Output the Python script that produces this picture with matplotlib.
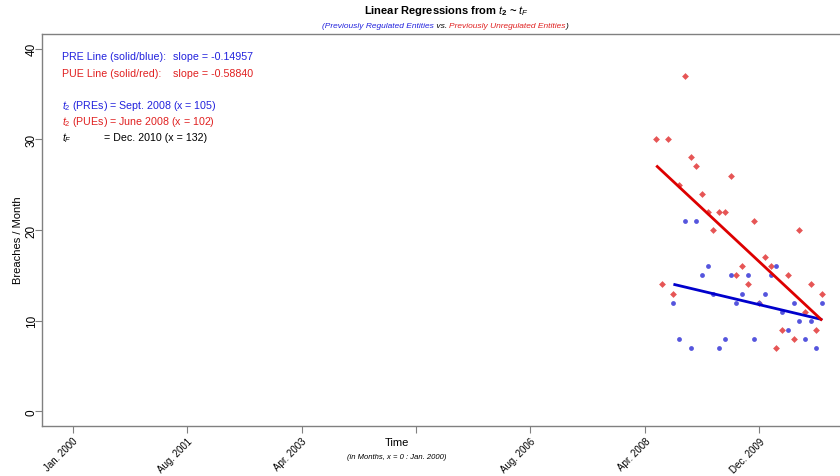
import matplotlib
matplotlib.use('Agg')
import matplotlib.pyplot as plt
import numpy as np

plt.rcParams['font.family'] = ['Liberation Sans', 'DejaVu Sans']
plt.rcParams['mathtext.fontset'] = 'custom'
plt.rcParams['mathtext.rm'] = 'Liberation Sans'
plt.rcParams['mathtext.it'] = 'Liberation Sans:italic'
plt.rcParams['mathtext.bf'] = 'Liberation Sans:bold'

# months since Jan. 2000 (x = 0)
pue_x = list(range(102, 132))
pue_y = [30, 14, 30, 13, 25, 37, 28, 27, 24, 22, 20, 22, 22, 26, 15,
         16, 14, 21, 12, 17, 16, 7, 9, 15, 8, 20, 11, 14, 9, 13]
pre_x = list(range(105, 132))
pre_y = [12, 8, 21, 7, 21, 15, 16, 13, 7, 8, 15, 12, 13, 15,
         8, 12, 13, 15, 16, 11, 9, 12, 10, 8, 10, 7, 12]

tick_pos = [0, 20, 40, 60, 80, 100, 120]
tick_lab = ['Jan. 2000', 'Aug. 2001', 'Apr. 2003', '', 'Aug. 2006', 'Apr. 2008', 'Dec. 2009']

blue_pt = '#5555dd'
red_pt = '#e65555'
blue_ln = '#0000cc'
red_ln = '#dd0000'
txt_blue = '#2222dd'
txt_red = '#e02020'

W, H = 840, 477
fig = plt.figure(figsize=(W / 100, H / 100), dpi=100)
ax = fig.add_axes([42 / W, (H - 427) / H, (870 - 42) / W, (427 - 35) / H])

ax.scatter(pue_x, pue_y, marker='D', s=12, color=red_pt, linewidths=0, zorder=2)
ax.scatter(pre_x, pre_y, marker='o', s=12, color=blue_pt, linewidths=0, zorder=3)

# regression lines over each data range
for xs, ys, c in [(pre_x, pre_y, blue_ln), (pue_x, pue_y, red_ln)]:
    b, a = np.polyfit(xs, ys, 1)
    xx = np.array([xs[0], xs[-1]])
    ax.plot(xx, a + b * xx, color=c, lw=2, zorder=4, solid_capstyle='butt')

ax.set_xlim(-5.36, 139.36)
ax.set_ylim(-1.6, 41.6)
ax.set_xticks(tick_pos)
ax.set_xticklabels(tick_lab, rotation=45, ha='right', va='top', fontsize=7,
                   rotation_mode='anchor')
ax.set_yticks([0, 10, 20, 30, 40])
ax.set_yticklabels(['0', '10', '20', '30', '40'], rotation=90, va='center', fontsize=8.5)
for s in ax.spines.values():
    s.set_color('#808080')
    s.set_linewidth(1)
ax.tick_params(axis='both', colors='#808080', length=5, width=0.8, labelcolor='black')
ax.tick_params(axis='x', pad=2)
ax.tick_params(axis='y', pad=-2)

fig.text(18 / W, 1 - 240 / H, 'Breaches / Month', rotation=90, ha='center', va='center', fontsize=8)
fig.text(397 / W, 1 - 443 / H, 'Time', ha='center', va='center', fontsize=8)
fig.text(397 / W, 1 - 458 / H, '(in Months, x = 0 : Jan. 2000)', ha='center', va='center',
         fontsize=5.5, style='italic')

# title and subtitle
fig.text(446 / W, 1 - 11 / H, r'Linear Regressions from $\mathbf{\it{t}}_\mathbf{2}$ ~ $\mathbf{\it{t}}_F$',
         ha='center', va='center', fontsize=8, fontweight='bold')
parts = [('(Previously Regulated Entities', txt_blue), (' vs. ', 'black'),
         ('Previously Unregulated Entities', txt_red), (')', 'black')]
fig.canvas.draw()
r = fig.canvas.get_renderer()
objs = []
for s, c in parts:
    objs.append(fig.text(0, 1 - 26 / H, s, color=c, fontsize=6, style='italic', va='center'))
widths = [o.get_window_extent(r).width for o in objs]
x0 = 445 - sum(widths) / 2
for o, w in zip(objs, widths):
    o.set_x(x0 / W)
    x0 += w

# annotation block
fs = 7.7
fig.text(62 / W, 1 - 57 / H, 'PRE Line (solid/blue):', color=txt_blue, fontsize=fs, va='center')
fig.text(173 / W, 1 - 57 / H, 'slope = -0.14957', color=txt_blue, fontsize=fs, va='center')
fig.text(62 / W, 1 - 74 / H, 'PUE Line (solid/red):', color=txt_red, fontsize=fs, va='center')
fig.text(173 / W, 1 - 74 / H, 'slope = -0.58840', color=txt_red, fontsize=fs, va='center')
fig.text(62 / W, 1 - 106 / H, r'$t_2$ (PREs) = Sept. 2008 (x = 105)', color=txt_blue, fontsize=fs, va='center')
fig.text(62 / W, 1 - 122 / H, r'$t_2$ (PUEs) = June 2008 (x = 102)', color=txt_red, fontsize=fs, va='center')
fig.text(62 / W, 1 - 138 / H, r'$t_F$', color='black', fontsize=fs, va='center')
fig.text(104 / W, 1 - 138 / H, '= Dec. 2010 (x = 132)', color='black', fontsize=fs, va='center')

fig.savefig('out.png', dpi=100)
